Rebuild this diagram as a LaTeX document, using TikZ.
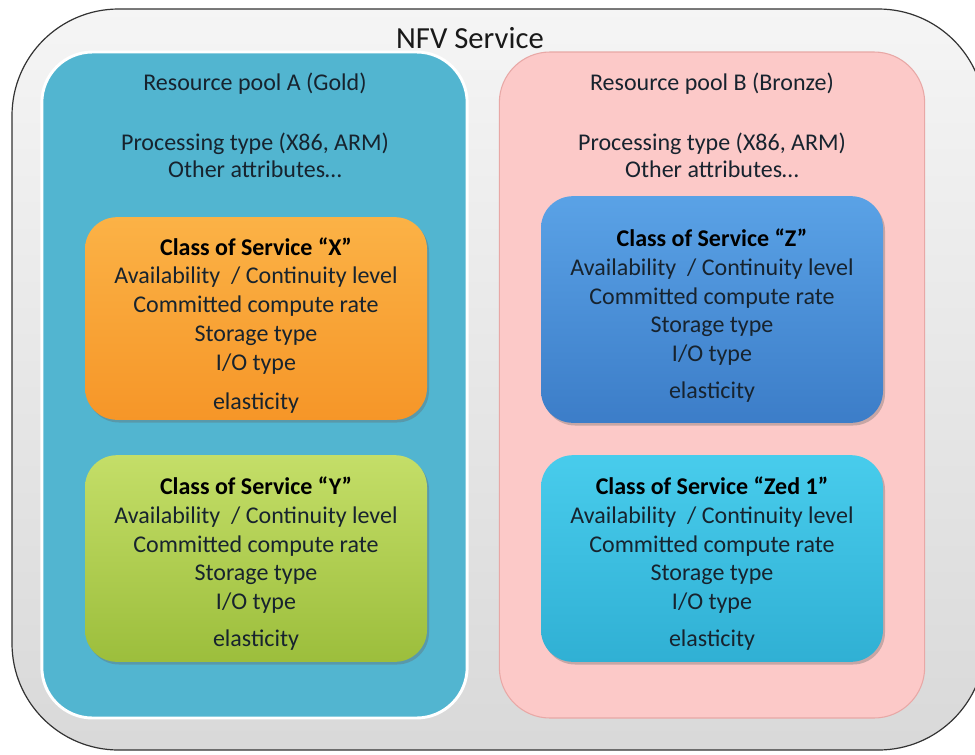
\documentclass[tikz,border=0pt]{standalone}
\usepackage{fontspec}
\setmainfont{Carlito}
\usetikzlibrary{shadows,calc}
\definecolor{txt}{HTML}{17232E}
\definecolor{poolA}{HTML}{52B5D0}
\definecolor{poolB}{HTML}{FCC9C8}
\definecolor{poolBline}{HTML}{E8A8A6}
\tikzset{
  outerbox/.style={draw=black!80, line width=0.9pt, rounded corners=80pt, top color=white!96!black, bottom color=black!15},
  poolbox/.style={rounded corners=38pt, minimum width=319pt, minimum height=499.5pt, inner sep=0pt},
  cosbox/.style={rounded corners=24pt, minimum width=256.5pt, minimum height=#1, inner sep=0pt,
     drop shadow={shadow xshift=1.5pt, shadow yshift=-2pt, opacity=0.35, fill=black!60}},
  costext/.style={text=txt, align=center, font=\fontsize{18}{21.6}\selectfont},
  pooltext/.style={text=txt, align=center, font=\fontsize{18}{20.5}\selectfont},
}
\begin{document}
\begin{tikzpicture}[x=0.75pt,y=-0.75pt]
\useasboundingbox (0,0) rectangle (975,754);
\begin{scope}
\clip (0,0) rectangle (975,754);
\draw[outerbox] (12,9) rectangle (985,750);
\end{scope}
\node[font=\fontsize{23}{27}\selectfont, text=black!90] (nfv) at (470,38) {NFV Service};

\node[poolbox, fill=poolA, draw=white, line width=2.2pt] (pa) at (254.5,385) {};
\node[poolbox, fill=poolB, draw=poolBline, line width=0.8pt] (pb) at (712,385) {};

\node[pooltext] (pat) at (255,84) {Resource pool A (Gold)};
\node[pooltext] (pap) at (255,155) {Processing type (X86, ARM)\\Other attributes…};
\node[pooltext] (pbt) at (712,84) {Resource pool B (Bronze)};
\node[pooltext] (pbp) at (712,155) {Processing type (X86, ARM)\\Other attributes…};

\node[cosbox=152pt, top color={rgb,255:red,251;green,178;blue,70}, bottom color={rgb,255:red,246;green,150;blue,40}] (x) at (256,318.5) {};
\node[cosbox=155pt, top color={rgb,255:red,196;green,222;blue,104}, bottom color={rgb,255:red,156;green,190;blue,60}] (y) at (256,558.5) {};
\node[cosbox=170pt, top color={rgb,255:red,90;green,162;blue,230}, bottom color={rgb,255:red,60;green,125;blue,200}] (z) at (712,309.5) {};
\node[cosbox=155pt, top color={rgb,255:red,72;green,204;blue,236}, bottom color={rgb,255:red,48;green,176;blue,212}] (zed) at (712,558.5) {};

\node[costext] (xt) at ($(x.center)+(0,7)$) {\textbf{\textcolor{black}{Class of Service “X”}}\\Availability~ / Continuity level\\Committed compute rate\\Storage type\\I/O type\\[8pt]elasticity};
\node[costext] (yt) at ($(y.center)+(0,5)$) {\textbf{\textcolor{black}{Class of Service “Y”}}\\Availability~ / Continuity level\\Committed compute rate\\Storage type\\I/O type\\[6pt]elasticity};
\node[costext] (zt) at ($(z.center)+(0,6)$) {\textbf{\textcolor{black}{Class of Service “Z”}}\\Availability~ / Continuity level\\Committed compute rate\\Storage type\\I/O type\\[6pt]elasticity};
\node[costext] (zedt) at ($(zed.center)+(0,5)$) {\textbf{\textcolor{black}{Class of Service “Zed 1”}}\\Availability~ / Continuity level\\Committed compute rate\\Storage type\\I/O type\\[6pt]elasticity};
\end{tikzpicture}
\end{document}
